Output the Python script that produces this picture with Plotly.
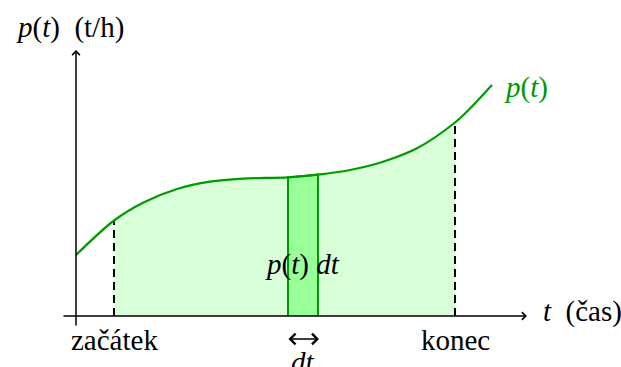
import plotly.graph_objects as go

# curve p(t) (arbitrary units, origin at axis crossing)
t_curve = [0, 38, 67, 101, 134, 167, 212, 242, 274, 307, 341, 379, 394, 416]
p_curve = [61, 95.5, 113.3, 127, 134.3, 137.3, 138.7, 141.3, 146, 154.3, 167.7, 193.5, 207.5, 231]

t_start = 38      # začátek
t_end = 379       # konec
t_dt = [212, 242]  # strip dt

labels = {"start": "začátek", "end": "konec"}

GREEN = "#009900"
LIGHT = "#d9ffd9"
STRIP = "#99ff99"
FONT = "Liberation Serif"
FS = 29

fig = go.Figure()

# shaded area between start and end
tf = [t for t in t_curve if t_start <= t <= t_end]
pf = [p for t, p in zip(t_curve, p_curve) if t_start <= t <= t_end]
fig.add_trace(go.Scatter(x=tf, y=pf, mode="lines", line=dict(width=0, shape="spline", smoothing=0.9),
                         fill="tozeroy", fillcolor=LIGHT, hoverinfo="skip"))

# strip dt
p_a = p_curve[t_curve.index(t_dt[0])]
p_b = p_curve[t_curve.index(t_dt[1])]
fig.add_trace(go.Scatter(x=[t_dt[0], t_dt[0], t_dt[1], t_dt[1]], y=[0, p_a, p_b, 0],
                         mode="lines", fill="toself", fillcolor=STRIP,
                         line=dict(color=GREEN, width=2), hoverinfo="skip"))

# dashed lines at start and end
p_s = p_curve[t_curve.index(t_start)]
p_e = p_curve[t_curve.index(t_end)]
for tt, pp in [(t_start, p_s), (t_end, p_e)]:
    fig.add_trace(go.Scatter(x=[tt, tt], y=[0, pp], mode="lines",
                             line=dict(color="black", width=2, dash="8px,5px"), hoverinfo="skip"))

# curve
fig.add_trace(go.Scatter(x=t_curve, y=p_curve, mode="lines",
                         line=dict(color=GREEN, width=2.2, shape="spline", smoothing=0.9), hoverinfo="skip"))

# axes with arrows
fig.add_annotation(x=451, y=0, ax=-14, ay=0, axref="x", ayref="y", xref="x", yref="y",
                   text="", showarrow=True, arrowhead=4, arrowsize=1, arrowwidth=1.5, arrowcolor="black")
fig.add_annotation(x=0, y=266, ax=0, ay=-11, axref="x", ayref="y", xref="x", yref="y",
                   text="", showarrow=True, arrowhead=4, arrowsize=1, arrowwidth=1.5, arrowcolor="black")
# dt double arrow
fig.add_annotation(x=t_dt[1] + 1, y=-23, ax=t_dt[0] - 1, ay=-23, axref="x", ayref="y", xref="x", yref="y",
                   text="", showarrow=True, arrowhead=4, startarrowhead=4, arrowside="end+start",
                   arrowsize=1.3, startarrowsize=1.3, arrowwidth=1.6, arrowcolor="black")

font = dict(family=FONT, size=FS, color="black")
texts = [
    dict(x=-62, y=289, text="<i>p</i>(<i>t</i>)  (t/h)", xanchor="left"),
    dict(x=t_start, y=-24, text=labels["start"], xanchor="center"),
    dict(x=t_end, y=-24, text=labels["end"], xanchor="center"),
    dict(x=465, y=5, text="<i>t</i>  (čas)", xanchor="left"),
    dict(x=226, y=52, text="<i>p</i>(<i>t</i>) <i>dt</i>", xanchor="center"),
    dict(x=227, y=-46, text="<i>dt</i>", xanchor="center"),
]
for tx in texts:
    fig.add_annotation(x=tx["x"], y=tx["y"], text=tx["text"], xanchor=tx["xanchor"], yanchor="middle",
                       showarrow=False, font=font, xref="x", yref="y")
fig.add_annotation(x=426, y=229, text="<i>p</i>(<i>t</i>)", xanchor="left", yanchor="middle",
                   showarrow=False, font=dict(family=FONT, size=FS, color=GREEN), xref="x", yref="y")

fig.update_layout(width=621, height=367, margin=dict(l=0, r=0, t=0, b=0),
                  paper_bgcolor="white", plot_bgcolor="white", showlegend=False,
                  xaxis=dict(range=[-76, 545], visible=False, fixedrange=True),
                  yaxis=dict(range=[-51, 316], visible=False, fixedrange=True))

fig.write_html("out.html", config={"displayModeBar": False},
               post_script="document.body.style.margin='0';")
